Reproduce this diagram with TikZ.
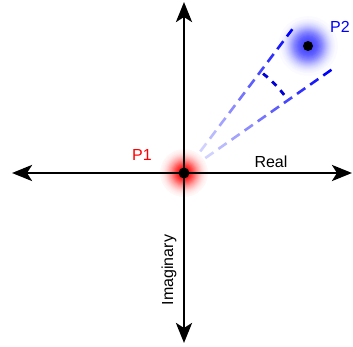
\documentclass[tikz,border=0pt]{standalone}
\usepackage{fontspec}
\setmainfont{Liberation Sans}
\usetikzlibrary{arrows.meta,calc}

\begin{document}
\begin{tikzpicture}[
  x=1pt, y=-1pt,
  font=\fontsize{16}{19}\selectfont,
  axis/.style={line width=2.9pt, {Stealth[length=20pt,width=16pt,inset=5pt]}-{Stealth[length=20pt,width=16pt,inset=5pt]}},
  ray/.style={line width=2.6pt},
  marker/.style={line width=2.8pt, blue!85!black, dash pattern=on 6pt off 6pt},
  dot/.style={fill=black}
]
\useasboundingbox (0,0) rectangle (353,347);

\coordinate (o) at (184,173);
\coordinate (p2) at (308,46);
\coordinate (xl) at (12,173);
\coordinate (xr) at (352,173);
\coordinate (yt) at (184,2);
\coordinate (yb) at (184,343);

% glows, ring by ring
\foreach \r in {24,23,...,5} {
  \pgfmathtruncatemacro{\tone}{100*exp(-(\r/14.5)^2.4)}
  \fill[red!\tone] (o) circle (\r);
}
\foreach \r in {30,29,...,5} {
  \pgfmathtruncatemacro{\tone}{72*exp(-(\r/19)^3)}
  \fill[blue!\tone] (p2) circle (\r);
}

% axes
\draw[axis] (xl) -- (xr);
\draw[axis] (yt) -- (yb);

% dashed rays, fading towards the origin
\foreach \ang/\ra/\rb in {-53/27/180, -35/26/185} {
  \foreach \k in {0,...,9} {
    \pgfmathsetmacro{\sa}{\ra+\k*16}
    \pgfmathsetmacro{\sb}{min(\sa+10,\rb)}
    \pgfmathtruncatemacro{\tone}{min(100,18+82*\k/9)}
    \draw[ray, blue!\tone] ($(o)+(\ang:\sa)$) -- ($(o)+(\ang:\sb)$);
  }
}
\draw[marker] ($(o)+(-51.5:127)$) arc (-51.5:-36:127);

\fill[dot] (o) circle (5.5);
\fill[dot] (p2) circle (5);

\node[text=red] (p1lbl) at (142,155) {P1};
\node[text=blue] (p2lbl) at (340,27) {P2};
\node (real) at (271,162) {Real};
\node[rotate=90] (imag) at (169,270) {Imaginary};
\end{tikzpicture}
\end{document}
